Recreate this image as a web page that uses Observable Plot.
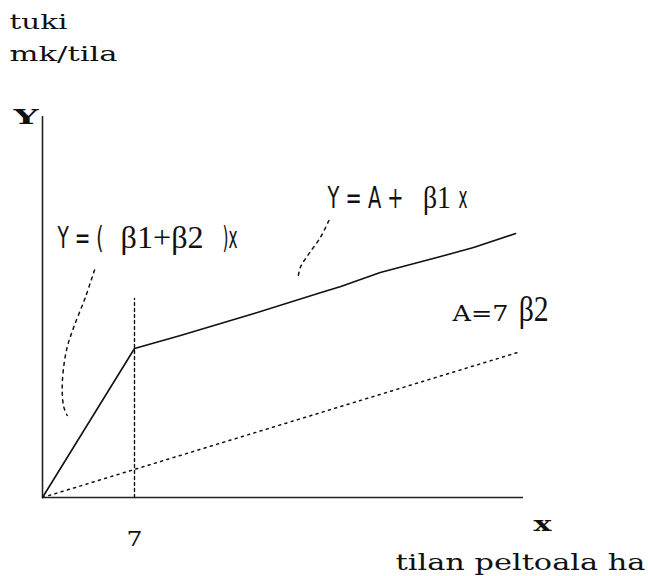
<!DOCTYPE html>
<html><head><meta charset="utf-8">
<script src="https://cdn.jsdelivr.net/npm/d3@7"></script>
<script src="https://cdn.jsdelivr.net/npm/@observablehq/plot@0.6"></script>
<style>body{margin:0;background:#fff}</style>
</head><body><div id="chart"></div>
<script>
// ---- data (schematic units: kink at x = 7, dotted line y = β2·x with β2 = 1) ----
const xTicks = [7];
const solidX = [0, 7, 10.5, 16.1, 21.2, 22.7, 25.7, 30.3, 32.8, 36.0];
const solidY = [0, 37.25, 40.5, 46, 51.25, 52.75, 56.25, 60.25, 62.5, 66];
const dottedX = [0, 36.4];
const dottedY = [0, 36.5];
const kinkX = [7, 7];
const kinkY = [0, 49.75];
const leftCurveX = [3.96, 3.27, 2.38, 1.88, 1.58, 1.50, 1.62, 1.88];
const leftCurveY = [56.9, 50.1, 42.6, 37.6, 31.75, 26.75, 22.6, 20.5];
const rightCurveX = [21.79, 21.16, 20.27, 19.63, 19.43];
const rightCurveY = [69.25, 65.1, 60.9, 57.6, 54.7];

const unitText = ["tuki", "mk/tila"];
const unitX = [-2.51, -2.51];
const unitY = [117.25, 109.25];
const yLetter = ["Y"];
const yLetterX = [-2.21];
const yLetterY = [93.5];
const xLetter = ["x"];
const xLetterX = [37.37];
const xLetterY = [-8.25];
const xTitle = ["tilan peltoala ha"];
const xTitleX = [26.86];
const xTitleY = [-18];

const eqPlain = ["Y = (", ")x", "Y = A +", "x"];
const eqPlainX = [1.14, 13.70, 21.69, 31.66];
const eqPlainY = [62.5, 62.5, 72.5, 72.5];
const eqBeta = ["β1+β2", "β1"];
const eqBetaX = [5.94, 28.95];
const eqBetaY = [62.5, 72.5];
const aText = ["A=7"];
const aX = [31.2];
const aY = [44.1];
const aBeta = ["β2"];
const aBetaX = [36.23];
const aBetaY = [44.2];

// ---- build ----
const pts = (xs, ys) => xs.map((x, i) => ({x, y: ys[i]}));
const labels = (ts, xs, ys) => ts.map((t, i) => ({t, x: xs[i], y: ys[i]}));

const serif = "'DejaVu Serif', serif";
const narrow = "'Liberation Sans Narrow','DejaVu Sans Condensed','Liberation Sans',sans-serif";
const times = "'Liberation Serif','Times New Roman',serif";
const ink = "#111";

function textMark(data, name, opts) {
  return Plot.text(data, {x: "x", y: "y", text: "t", textAnchor: "start", lineAnchor: "bottom",
    fill: ink, ariaDescription: name, ...opts});
}

const plot = Plot.plot({
  width: 648, height: 576,
  marginLeft: 42, marginRight: 125, marginTop: 116, marginBottom: 79,
  x: {domain: [0, 36.6], axis: null},
  y: {domain: [0, 95.25], axis: null},
  style: {background: "white", fontFamily: serif, overflow: "visible"},
  marks: [
    Plot.ruleY([0], {stroke: "#222", strokeWidth: 1.6}),
    Plot.ruleX([0], {stroke: "#222", strokeWidth: 1.6}),
    // x tick label (7), placed under the axis via the x scale
    Plot.text(xTicks, {x: d => d, text: d => String(d), frameAnchor: "bottom", lineAnchor: "bottom",
      dy: 48, fontSize: 21, fontFamily: serif, fill: ink, ariaDescription: "xtick"}),
    Plot.line(pts(kinkX, kinkY), {x: "x", y: "y", stroke: ink, strokeWidth: 1.4, strokeDasharray: "3,3"}),
    Plot.line(pts(dottedX, dottedY), {x: "x", y: "y", stroke: ink, strokeWidth: 1.5, strokeDasharray: "2,4.5"}),
    Plot.line(pts(solidX, solidY), {x: "x", y: "y", stroke: ink, strokeWidth: 1.6}),
    Plot.line(pts(leftCurveX, leftCurveY), {x: "x", y: "y", stroke: ink, strokeWidth: 1.5,
      strokeDasharray: "3,4.5", curve: "catmull-rom"}),
    Plot.line(pts(rightCurveX, rightCurveY), {x: "x", y: "y", stroke: ink, strokeWidth: 1.5,
      strokeDasharray: "3,4.5", curve: "catmull-rom"}),
    textMark(labels(unitText, unitX, unitY), "unit", {fontSize: 21}),
    textMark(labels(yLetter, yLetterX, yLetterY), "yletter", {fontSize: 21, fontWeight: "bold"}),
    textMark(labels(xLetter, xLetterX, xLetterY), "xletter", {fontSize: 21, fontWeight: "bold"}),
    textMark(labels(xTitle, xTitleX, xTitleY), "xtitle", {fontSize: 23}),
    textMark(labels(eqPlain, eqPlainX, eqPlainY), "eqplain", {fontSize: 30, fontFamily: narrow}),
    textMark(labels(eqBeta, eqBetaX, eqBetaY), "eqbeta", {fontSize: 32, fontFamily: times}),
    textMark(labels(aText, aX, aY), "atext", {fontSize: 22}),
    textMark(labels(aBeta, aBetaX, aBetaY), "abeta", {fontSize: 36, fontFamily: times})
  ]
});

// fit the scanned letterforms' widths (style only)
const fit = {
  xtick: [[16, "spacingAndGlyphs"]],
  unit: [[58, "spacingAndGlyphs"], [108, "spacingAndGlyphs"]],
  yletter: [[25, "spacingAndGlyphs"]],
  xletter: [[18, "spacingAndGlyphs"]],
  xtitle: [[250, "spacingAndGlyphs"]],
  eqplain: [[46, "spacingAndGlyphs"], [15, "spacingAndGlyphs"], [76, "spacingAndGlyphs"], [9, "spacingAndGlyphs"]],
  eqbeta: [[83, "spacingAndGlyphs"], [28, "spacingAndGlyphs"]],
  atext: [[56, "spacingAndGlyphs"]],
  abeta: [[30, "spacingAndGlyphs"]]
};
for (const [name, specs] of Object.entries(fit)) {
  d3.select(plot).selectAll(`g[aria-description="${name}"] text`).each(function(_, i) {
    if (specs[i]) d3.select(this).attr("textLength", specs[i][0]).attr("lengthAdjust", specs[i][1]);
  });
}
document.getElementById("chart").appendChild(plot);
</script>
</body></html>
